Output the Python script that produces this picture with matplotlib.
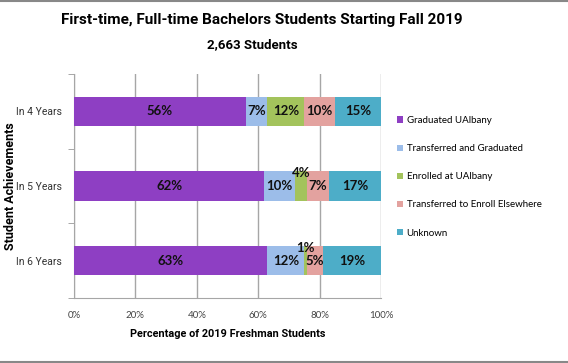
import matplotlib
matplotlib.use('Agg')
import matplotlib.pyplot as plt
from matplotlib.lines import Line2D
from matplotlib.patches import Patch

categories = ['In 4 Years', 'In 5 Years', 'In 6 Years']
series_names = ['Graduated UAlbany', 'Transferred and Graduated', 'Enrolled at UAlbany',
                'Transferred to Enroll Elsewhere', 'Unknown']
values = [
    [56, 62, 63],   # Graduated UAlbany
    [7, 10, 12],    # Transferred and Graduated
    [12, 4, 1],     # Enrolled at UAlbany
    [10, 7, 5],     # Transferred to Enroll Elsewhere
    [15, 17, 19],   # Unknown
]
colors = ['#8E3FC3', '#9CBDE9', '#A3C35C', '#E3A29F', '#4DADC8']
xticks = [0, 20, 40, 60, 80, 100]

label_font = ['Lato', 'DejaVu Sans']
narrow_font = ['Roboto', 'DejaVu Sans']

fig = plt.figure(figsize=(5.68, 3.63), dpi=100)
ax = fig.add_axes([74 / 568, 1 - 298 / 363, 307 / 568, 224 / 363])

ypos = [0, 1, 2]
left = [0, 0, 0]
for s, name in enumerate(series_names):
    ax.barh(ypos, values[s], left=left, height=0.39, color=colors[s], label=name, zorder=3)
    for i in range(len(categories)):
        v = values[s][i]
        cx = left[i] + v / 2
        ty = ypos[i] - 0.17 if v < 5 else ypos[i]
        ax.text(cx, ty, f'{v}%', ha='center', va='center', fontsize=9.5, fontweight='bold',
                family=label_font, color='#111111', zorder=4)
        left[i] += v

ax.set_ylim(2.5, -0.5)
ax.set_xlim(0, 100)
ax.set_xticks(xticks)
ax.set_xticklabels([f'{t}%' for t in xticks], family=label_font, fontsize=7, color='#444444')
ax.set_yticks(ypos)
ax.set_yticklabels(categories, family=narrow_font, fontsize=7.5, color='#333333')
ax.set_yticks([-0.5, 0.5, 1.5, 2.5], minor=True)
ax.tick_params(axis='y', which='major', length=0, pad=9)
ax.tick_params(axis='y', which='minor', length=4, color='#999999')
ax.tick_params(axis='x', length=0, pad=9)
ax.grid(axis='x', color='#A6A6A6', linewidth=1, zorder=0)
for side in ['top', 'right']:
    ax.spines[side].set_visible(False)
for side in ['left', 'bottom']:
    ax.spines[side].set_color('#A6A6A6')

ax.set_xlabel('Percentage of 2019 Freshman Students', family=narrow_font, fontsize=7.8,
              fontweight='bold', labelpad=7)
ax.set_ylabel('Student Achievements', family=narrow_font, fontsize=9, fontweight='bold')
ax.yaxis.set_label_coords(-57 / 307, 0.5)

handles = [Patch(facecolor=c, edgecolor='none') for c in colors]
leg = fig.legend(handles, series_names, loc='upper left', bbox_to_anchor=(393 / 568, 1 - 112 / 363),
                 frameon=False, prop={'family': label_font, 'size': 7}, handlelength=0.6,
                 handleheight=0.6, handletextpad=0.4, labelspacing=1.97, borderaxespad=0)

fig.text(262 / 568, 1 - 20 / 363, 'First-time, Full-time Bachelors Students Starting Fall 2019',
         ha='center', va='center', family=narrow_font, fontsize=11, fontweight='bold')
fig.text(252 / 568, 1 - 45 / 363, '2,663 Students', ha='center', va='center', family=narrow_font,
         fontsize=9.5, fontweight='bold')

# thin gray frame lines at top and bottom of the image
fig.add_artist(Line2D([0, 1], [0.998, 0.998], color='#888888', linewidth=1.5, transform=fig.transFigure))
fig.add_artist(Line2D([0, 1], [0.004, 0.004], color='#888888', linewidth=1.5, transform=fig.transFigure))

fig.savefig('out.png', dpi=100)
